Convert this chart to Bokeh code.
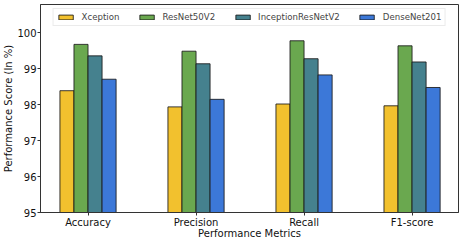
from bokeh.plotting import figure
from bokeh.models import ColumnDataSource, Range1d, FixedTicker, Legend, LegendItem
from bokeh.transform import dodge
from bokeh.embed import file_html
from bokeh.resources import INLINE

metrics = ["Accuracy", "Precision", "Recall", "F1-score"]
models = ["Xception", "ResNet50V2", "InceptionResNetV2", "DenseNet201"]
xception = [98.39, 97.94, 98.02, 97.97]
resnet50v2 = [99.68, 99.49, 99.78, 99.64]
inceptionresnetv2 = [99.36, 99.14, 99.28, 99.19]
densenet201 = [98.71, 98.15, 98.83, 98.48]
colors = ["#F2C12E", "#6AA84F", "#45818E", "#3C78D8"]

series = [xception, resnet50v2, inceptionresnetv2, densenet201]
xs = list(range(len(metrics)))
src = ColumnDataSource(data=dict(x=xs, **{m: v for m, v in zip(models, series)}))

FONT = "DejaVu Sans"
p = figure(frame_width=418, frame_height=208, output_backend="svg", toolbar_location=None,
           x_range=Range1d(-0.44, 3.43), y_range=Range1d(95, 100.79),
           min_border_left=0, min_border_right=5, min_border_top=4, min_border_bottom=0)

bw = 0.13
offsets = [-1.5 * bw, -0.5 * bw, 0.5 * bw, 1.5 * bw]
items = []
for m, c, off in zip(models, colors, offsets):
    r = p.vbar(x=dodge("x", off, range=p.x_range), top=m, bottom=95, width=bw, source=src,
               fill_color=c, line_color="#1a1a1a", line_alpha=0.85, line_width=1)
    items.append(LegendItem(label=m, renderers=[r]))

legend = Legend(items=items, orientation="horizontal", location="top_center",
                label_text_font=FONT, label_text_font_size="8.6px",
                glyph_width=18, glyph_height=6, label_standoff=7, spacing=18,
                padding=3, margin=4, border_line_color="#d8d8d8", border_line_width=1,
                background_fill_alpha=0.9, label_height=9)
p.add_layout(legend, "center")

p.xgrid.visible = False
p.ygrid.visible = False
p.outline_line_color = "#333333"
p.outline_line_width = 1

p.xaxis.ticker = FixedTicker(ticks=xs)
p.xaxis.major_label_overrides = {i: m for i, m in enumerate(metrics)}
p.yaxis.ticker = FixedTicker(ticks=[95, 96, 97, 98, 99, 100])
p.xaxis.axis_label = "Performance Metrics"
p.yaxis.axis_label = "Performance Score (In %)"
for ax in (p.xaxis[0], p.yaxis[0]):
    ax.axis_label_text_font = FONT
    ax.axis_label_text_font_size = "10px"
    ax.axis_label_text_font_style = "normal"
    ax.axis_label_standoff = 0
    ax.major_label_text_font = FONT
    ax.major_label_text_font_size = "10px"
    ax.major_label_standoff = 1
    ax.major_tick_out = 3
    ax.major_tick_in = 0
    ax.minor_tick_out = 0
    ax.minor_tick_in = 0
    ax.axis_line_color = "#333333"
    ax.major_tick_line_color = "#333333"
    ax.major_label_text_color = "#111111"
    ax.axis_label_text_color = "#111111"
p.xaxis[0].axis_label_standoff = -3

open("out.html", "w").write(file_html(p, INLINE))
